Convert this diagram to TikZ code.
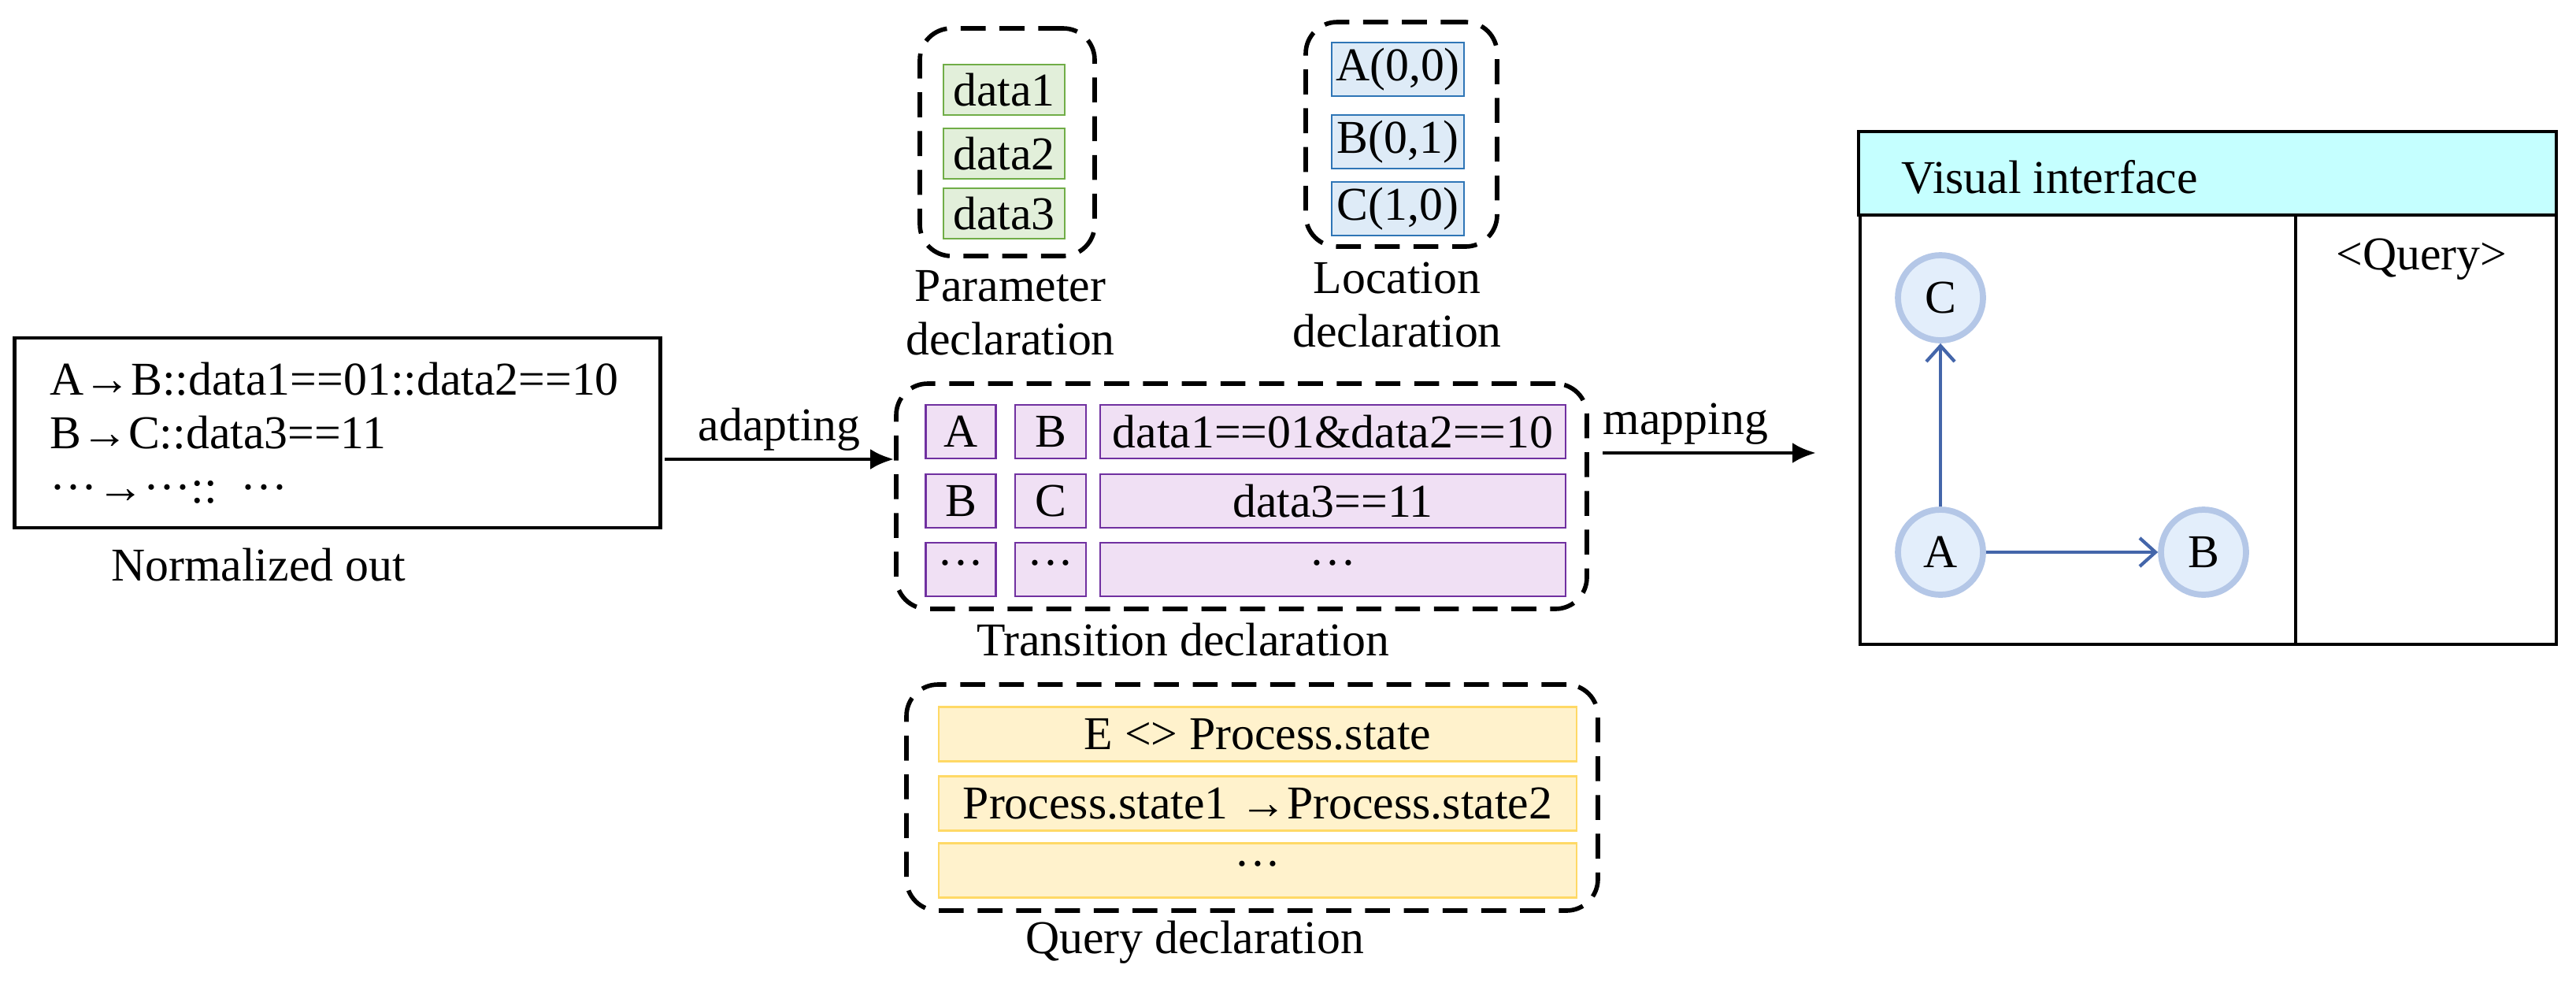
\documentclass[tikz,border=0pt]{standalone}
\usepackage{fontspec}
\setmainfont{Liberation Serif}
\usetikzlibrary{arrows.meta, positioning}

\definecolor{greenfill}{HTML}{E2EFDA}
\definecolor{greenline}{HTML}{70AD47}
\definecolor{bluefill}{HTML}{DEEBF7}
\definecolor{blueline}{HTML}{2E75B6}
\definecolor{purplefill}{HTML}{F0E0F4}
\definecolor{purpleline}{HTML}{7030A0}
\definecolor{yellowfill}{HTML}{FFF2CC}
\definecolor{yellowline}{HTML}{FFD966}
\definecolor{headfill}{HTML}{C5FFFF}
\definecolor{circfill}{HTML}{E3EEFB}
\definecolor{circline}{HTML}{B4C7E7}
\definecolor{edgeblue}{HTML}{4466AA}

\begin{document}
\begin{tikzpicture}[
  font=\fontsize{17}{19.5}\selectfont,
  cell/.style={draw, line width=0.8pt, inner sep=0pt, minimum height=0.64cm},
  pcell/.style={cell, fill=greenfill, draw=greenline, minimum width=1.54cm},
  lcell/.style={cell, fill=bluefill, draw=blueline, minimum width=1.68cm, minimum height=0.68cm},
  tcell/.style={cell, fill=purplefill, draw=purpleline, minimum height=0.68cm},
  qcell/.style={cell, fill=yellowfill, draw=yellowline, minimum width=8.1cm, minimum height=0.69cm},
  group/.style={draw, dashed, line width=1.6pt, dash pattern=on 9pt off 5pt, rounded corners=0.4cm, inner sep=0pt},
  arrow/.style={-{Latex[length=3mm,width=2.6mm]}, line width=1.4pt},
  state/.style={circle, fill=circfill, draw=circline, line width=2.2pt, minimum size=1.08cm, inner sep=0pt},
  edge/.style={-{Straight Barb[length=2mm,width=3.6mm]}, draw=edgeblue, line width=1.2pt}
]
\useasboundingbox (0,0) rectangle (32.71,-12.52);

% normalized output
\node[draw, line width=1.4pt, minimum width=7.99cm, minimum height=2.41cm, align=left,
  text width=7.3cm, inner xsep=0.45cm] (norm) at (4.285,-5.495)
  {A→B::data1==01::data2==10\\B→C::data3==11\\···→···:: ···};
\node (normlbl) at (3.28,-7.17) {Normalized out};

% parameter declaration
\node[group, minimum width=2.22cm, minimum height=2.89cm] (param) at (12.79,-1.805) {};
\node[pcell] (d1) at (12.75,-1.14) {data1};
\node[pcell] (d2) at (12.75,-1.95) {data2};
\node[pcell] (d3) at (12.75,-2.71) {data3};
\node[align=center] (paramlbl) at (12.83,-3.97) {Parameter\\declaration};

% location declaration
\node[group, minimum width=2.43cm, minimum height=2.85cm] (loc) at (17.795,-1.705) {};
\node[lcell] (la) at (17.75,-0.88) {A(0,0)};
\node[lcell] (lb) at (17.75,-1.80) {B(0,1)};
\node[lcell] (lc) at (17.75,-2.65) {C(1,0)};
\node[align=center] (loclbl) at (17.74,-3.87) {Location\\declaration};

% transition declaration
\node[group, minimum width=8.77cm, minimum height=2.86cm] (trans) at (15.765,-6.30) {};
\foreach \y/\s/\t/\g [count=\i] in {-5.48/A/B/data1==01\&data2==10, -6.36/B/C/data3==11, -7.23/···/···/···} {
  \node[tcell, minimum width=0.89cm] (ts\i) at (12.20,\y) {\s};
  \node[tcell, minimum width=0.90cm] (tt\i) at (13.34,\y) {\t};
  \node[tcell, minimum width=5.91cm] (tg\i) at (16.925,\y) {\g};
}
\node (translbl) at (15.02,-8.12) {Transition declaration};

% query declaration
\node[group, minimum width=8.78cm, minimum height=2.87cm] (query) at (15.90,-10.125) {};
\node[qcell] (q1) at (15.97,-9.32) {E <> Process.state};
\node[qcell] (q2) at (15.97,-10.20) {Process.state1 →Process.state2};
\node[qcell] (q3) at (15.97,-11.05) {···};
\node (querylbl) at (15.17,-11.96) {Query declaration};

% arrows between stages
\coordinate (adapt) at (8.44,-5.83);
\draw[arrow] (adapt) -- (adapt -| trans.west) node[midway, above=-1pt] {adapting};
\coordinate (mapfrom) at (20.35,-5.75);
\coordinate (mapto) at (23.06,-5.75);
\draw[arrow] (mapfrom) -- (mapto) node[midway, above=-1pt, xshift=-3mm] {mapping};

% visual interface
\node[draw, line width=1.2pt, minimum width=8.84cm, minimum height=6.49cm, inner sep=0pt] (vis) at (28.04,-4.935) {};
\draw[line width=1.2pt, fill=headfill] (vis.north west) rectangle (32.46,-2.73);
\node[anchor=west] (vistitle) at (24.02,-2.25) {Visual interface};
\coordinate (divtop) at (29.15,-2.73);
\draw[line width=1.2pt] (divtop) -- (divtop |- vis.south);
\node (qry) at (30.75,-3.29) {<Query>};

\node[state] (C) at (24.64,-3.78) {C};
\node[state] (A) at (24.64,-7.01) {A};
\node[state] (B) at (27.98,-7.01) {B};
\draw[edge] (A) -- (C);
\draw[edge] (A) -- (B);
\end{tikzpicture}
\end{document}
